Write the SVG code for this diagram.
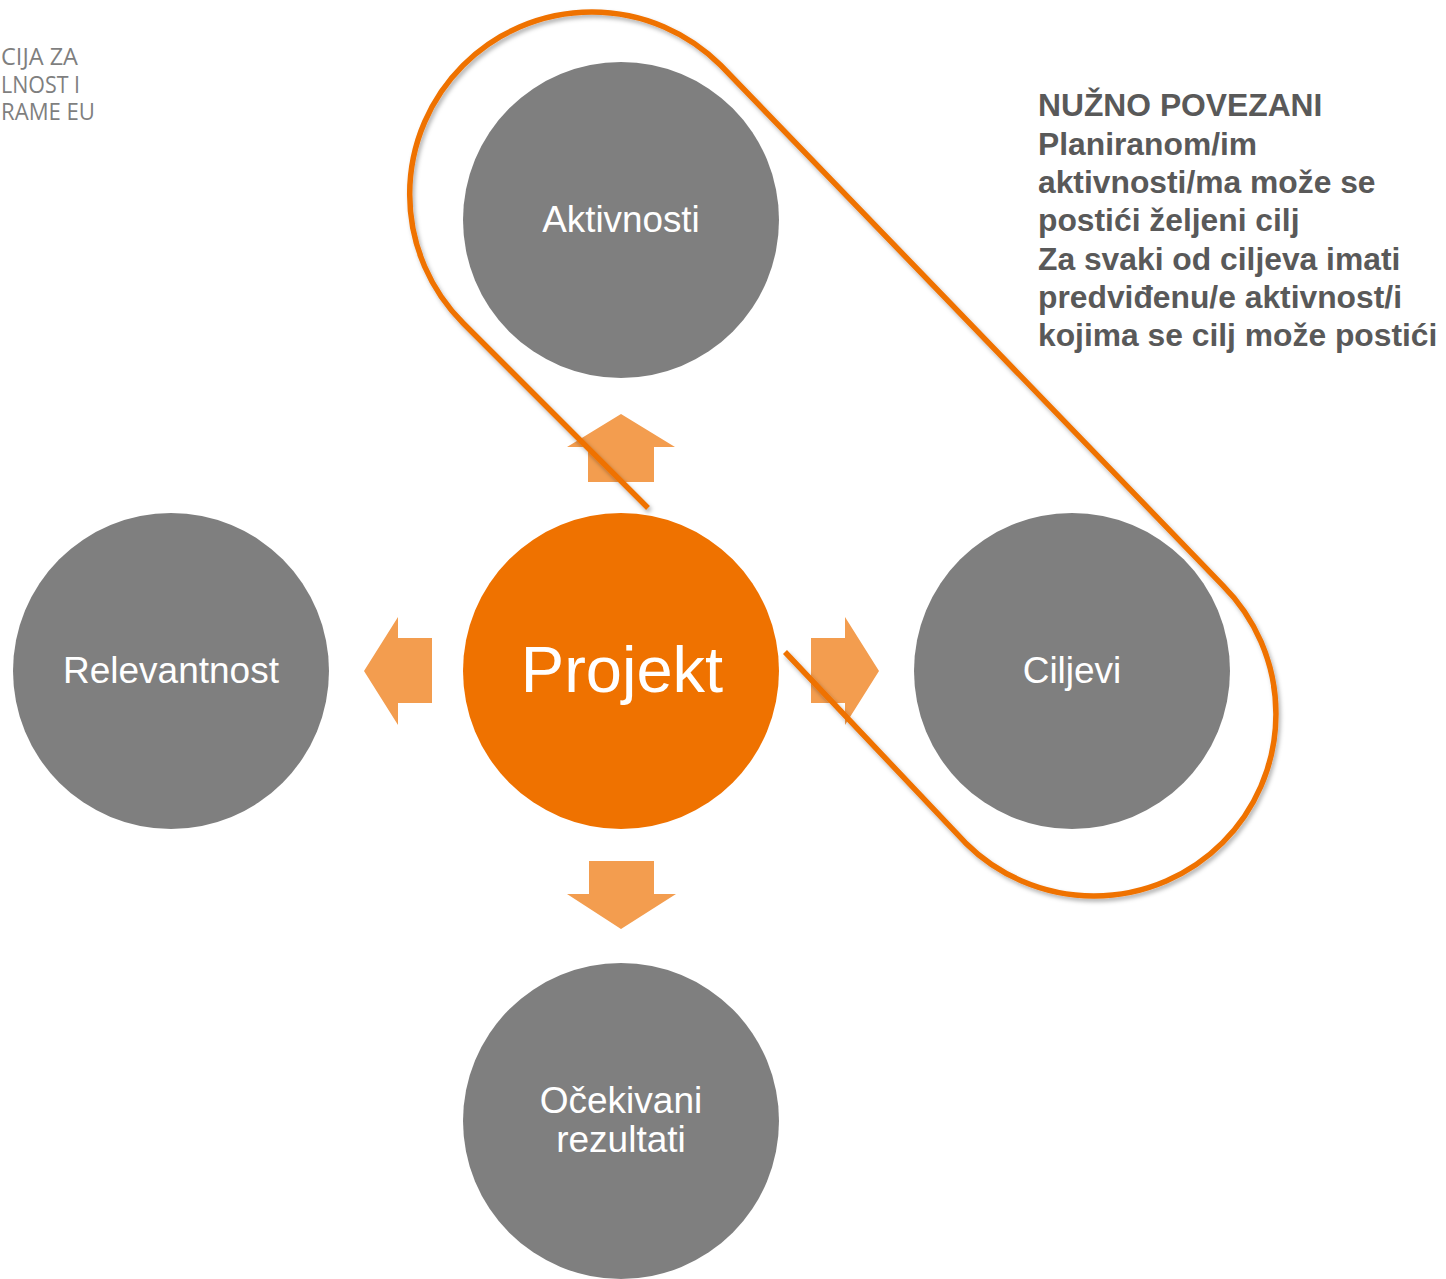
<svg xmlns="http://www.w3.org/2000/svg" width="1446" height="1279" viewBox="0 0 1446 1279">
<style>
.node{fill:#7F7F7F}
.core{fill:#EF7200}
.lbl{font-family:"Liberation Sans",Arial,sans-serif;fill:#FFFFFF;text-anchor:middle}
.arrow{fill:#F39D4F}
.loop{fill:none;stroke:#EF7200;stroke-width:5.5;stroke-linecap:butt}
.note{font-family:"Liberation Sans",Arial,sans-serif;font-weight:bold;font-size:31.8px;fill:#595959}
.logo{font-family:"Open Sans","Noto Sans",sans-serif;font-size:24px;font-weight:500;fill:#7F7F7F}
</style>
<defs>
<filter id="sh" x="-10%" y="-10%" width="120%" height="120%">
<feDropShadow dx="2" dy="3" stdDeviation="2" flood-color="#000" flood-opacity="0.3"/>
</filter>
</defs>
<rect width="1446" height="1279" fill="#FFFFFF"/>
<g id="logo">
<text class="logo" x="1" y="65" textLength="77" lengthAdjust="spacingAndGlyphs">CIJA ZA</text>
<text class="logo" x="1" y="93" textLength="79" lengthAdjust="spacingAndGlyphs">LNOST I</text>
<text class="logo" x="1" y="120" textLength="94" lengthAdjust="spacingAndGlyphs">RAME EU</text>
</g>
<g id="aktivnosti">
<circle class="node" cx="621" cy="220" r="158"/>
<text class="lbl" x="621" y="232" font-size="36.8">Aktivnosti</text>
</g>
<g id="relevantnost">
<circle class="node" cx="171" cy="671" r="158"/>
<text class="lbl" x="171" y="683" font-size="37">Relevantnost</text>
</g>
<g id="projekt">
<circle class="core" cx="621" cy="671" r="158"/>
<text class="lbl" x="622" y="692" font-size="65">Projekt</text>
</g>
<g id="ciljevi">
<circle class="node" cx="1072" cy="671" r="158"/>
<text class="lbl" x="1072" y="683" font-size="37">Ciljevi</text>
</g>
<g id="ocekivani">
<circle class="node" cx="621" cy="1121" r="158"/>
<text class="lbl" x="621" y="1113" font-size="37">Očekivani</text>
<text class="lbl" x="621" y="1152" font-size="37">rezultati</text>
</g>
<g id="connectors">
<polygon class="arrow" points="621,414 675,447 654,447 654,482 588,482 588,447 567,447"/>
<polygon class="arrow" points="879,671 845,725 845,703 811,703 811,638 845,638 845,617"/>
<polygon class="arrow" points="364,671 398,617 398,638 432,638 432,703 398,703 398,725"/>
<polygon class="arrow" points="621,929 676,894 654,894 654,861 589,861 589,894 567,894"/>
<path class="loop" filter="url(#sh)" d="M648,508 L463,323 A182,182 0 0 1 720.7,65.3 L1222.7,585.3 A182,182 0 0 1 965.3,842.7 L785,652"/>
</g>
<g id="note">
<text class="note" x="1038" y="116">NUŽNO POVEZANI</text>
<text class="note" x="1038" y="154.5">Planiranom/im</text>
<text class="note" x="1038" y="193">aktivnosti/ma može se</text>
<text class="note" x="1038" y="231">postići željeni cilj</text>
<text class="note" x="1038" y="269.5">Za svaki od ciljeva imati</text>
<text class="note" x="1038" y="308">predviđenu/e aktivnost/i</text>
<text class="note" x="1038" y="346">kojima se cilj može postići</text>
</g>
</svg>
